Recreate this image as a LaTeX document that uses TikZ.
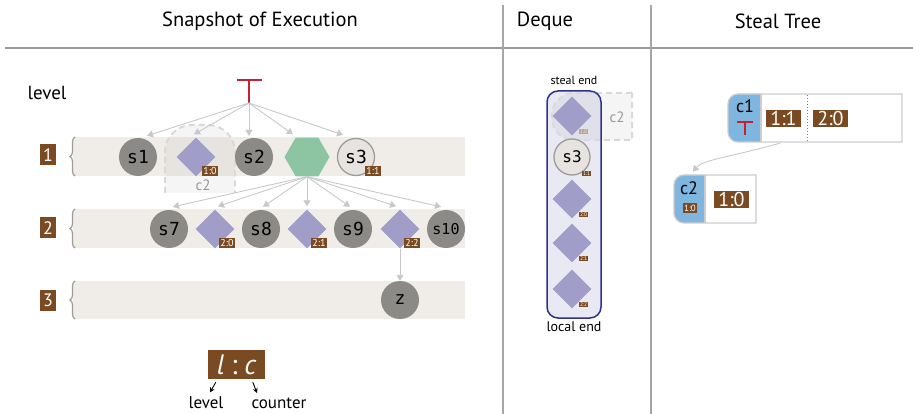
\documentclass[tikz,border=0pt]{standalone}
\usepackage{fontspec}
\setmainfont{PT Sans}
\newfontfamily\monofont{DejaVu Sans Mono}
\usetikzlibrary{shapes.geometric,arrows.meta,decorations.pathreplacing,calc}
\definecolor{brownc}{HTML}{7A4B22}
\definecolor{nodegray}{HTML}{8C8A86}
\definecolor{diac}{HTML}{A09EC8}
\definecolor{hexc}{HTML}{8DC5A3}
\definecolor{lightn}{HTML}{E6E3E0}
\definecolor{lightb}{HTML}{9E9C99}
\definecolor{bandc}{HTML}{F0EDE9}
\definecolor{arrc}{HTML}{C8C8C8}
\definecolor{dequef}{HTML}{E9E9F4}
\definecolor{navy}{HTML}{2E3190}
\definecolor{tblue}{HTML}{7EB6DF}
\definecolor{redc}{HTML}{C8202F}
\definecolor{ghostd}{HTML}{D9D9D9}
\definecolor{borderc}{HTML}{CCCCCC}
\begin{document}
\begin{tikzpicture}[x=1pt,y=-1pt,
  snode/.style={circle, fill=nodegray, minimum size=38pt, inner sep=0pt, font=\monofont\fontsize{18}{18}\selectfont},
  dnode/.style={diamond, fill=diac, minimum size=39pt, inner sep=0pt},
  tag/.style={fill=brownc, text=white, inner sep=1.3pt, font=\fontsize{10}{10}\selectfont},
  dtag/.style={fill=brownc, text=white, inner sep=0.6pt, font=\fontsize{5.5}{5.5}\selectfont},
  bigtag/.style={fill=brownc, text=white, minimum width=35pt, minimum height=17pt, inner sep=0pt, font=\fontsize{20}{20}\selectfont},
  lvl/.style={fill=brownc, text=white, minimum width=16pt, minimum height=21pt, inner sep=0pt, font=\fontsize{18}{18}\selectfont},
  arr/.style={draw=arrc, line width=0.9pt, -{Triangle[length=6pt,width=7pt]}},
  band/.style={fill=bandc},
  bracec/.style={draw=lightb, line width=1.2pt, decorate, decoration={brace, amplitude=5pt}},
  ghost/.style={draw=ghostd, line width=2pt, dash pattern=on 6pt off 4pt, fill=gray, fill opacity=0.08},
  title/.style={font=\fontsize{20.5}{20.5}\selectfont},
  tbar/.style={draw=redc, line width=2.2pt},
  blk/.style={draw=black, line width=0.9pt, -{Stealth[length=5pt,width=5pt]}}
]
\useasboundingbox (0,0) rectangle (913,414);

% headers
\node[title] (h1) at (260,21) {Snapshot of Execution};
\node[title] (h2) at (545,21) {Deque};
\node[title] (h3) at (778,21) {Steal Tree};
\draw[draw=gray!80, line width=2pt] (5,48) -- (913,48);
\draw[draw=gray!70, line width=1.2pt] (503,5) -- (503,414);
\draw[draw=gray!70, line width=1.2pt] (651,5) -- (651,414);

% snapshot
\node[font=\fontsize{19}{19}\selectfont] (lvtxt) at (47,93) {level};
\fill[band] (73,137) rectangle (465,176);
\fill[band] (73,209) rectangle (465,248);
\fill[band] (73,281) rectangle (465,319);
\draw[bracec] (75,176) -- (75,137);
\draw[bracec] (75,248) -- (75,209);
\draw[bracec] (75,319) -- (75,281);
\node[lvl] (l1) at (48,155) {1};
\node[lvl] (l2) at (48,228) {2};
\node[lvl] (l3) at (48,300) {3};

% ghost c2
\path[ghost] (165,193) -- (165,152) arc[start angle=180, end angle=270, radius=27] -- (208,125) arc[start angle=270, end angle=360, radius=27] -- (235,193);
\node[text=gray!80, font=\fontsize{15}{15}\selectfont] (c2g) at (203,185) {c2};

% root T
\draw[tbar] (237,80) -- (262,80);
\draw[tbar] (249,80) -- (249,103);
\coordinate (root) at (249,103);

% row 1
\node[snode] (s1) at (138,157) {s1};
\node[dnode] (d10) at (196,157) {};
\node[snode] (s2) at (254,157) {s2};
\node[regular polygon, regular polygon sides=6, minimum size=45pt, inner sep=0pt, fill=hexc] (hex) at (307,157) {};
\node[snode, fill=lightn, draw=lightb, line width=1.3pt, minimum size=37pt] (s3) at (356,157) {s3};
\node[tag, anchor=south east] (t10) at ($(d10.center)+(22,19.5)$) {1:0};
\node[tag, anchor=south east] (t11) at ($(s3.center)+(25,19.5)$) {1:1};

\draw[arr] (root) -- ($(s1.north)+(9,-2)$);
\draw[arr] (root) -- ($(d10.north)+(-2,-3)$);
\draw[arr] (root) -- ($(s2.north)+(-5,-2)$);
\draw[arr] (root) -- ($(hex.north)+(-14,-3)$);
\draw[arr] (root) -- ($(s3.north)+(-13,-3)$);

% row 2
\node[snode] (s7) at (169,229) {s7};
\node[dnode] (d20) at (215,229) {};
\node[snode] (s8) at (261,229) {s8};
\node[dnode] (d21) at (307,229) {};
\node[snode] (s9) at (353,229) {s9};
\node[dnode] (d22) at (400,229) {};
\node[snode, font=\monofont\fontsize{15}{15}\selectfont] (s10) at (446,229) {s10};
\node[tag, anchor=south east] (t20) at ($(d20.center)+(20,19.5)$) {2:0};
\node[tag, anchor=south east] (t21) at ($(d21.center)+(20,19.5)$) {2:1};
\node[tag, anchor=south east] (t22) at ($(d22.center)+(20,19.5)$) {2:2};

\draw[arr] (hex.south) -- ($(s7.north)+(4,-3)$);
\draw[arr] (hex.south) -- ($(d20.north)+(3,-3)$);
\draw[arr] (hex.south) -- ($(s8.north)+(2,-3)$);
\draw[arr] (hex.south) -- ($(d21.north)+(0,-3)$);
\draw[arr] (hex.south) -- ($(s9.north)+(-3,-3)$);
\draw[arr] (hex.south) -- ($(d22.north)+(-4,-3)$);
\draw[arr] (hex.south) -- ($(s10.north)+(-5,-3)$);

% row 3
\node[snode] (z) at (400,300) {z};
\draw[arr] (d22.south) -- (z.north);

% legend
\node[fill=brownc, text=white, minimum width=57pt, minimum height=29pt, inner sep=0pt, font=\fontsize{28}{28}\selectfont] (leg) at (236.5,364.5) {\itshape l\hspace{7pt}\upshape:\hspace{7pt}\itshape c};
\node[font=\fontsize{17}{17}\selectfont] (lvl) at (206,403) {level};
\node[font=\fontsize{17}{17}\selectfont] (cnt) at (279,403) {counter};
\draw[blk] ($(leg.south west)+(8,3)$) -- ($(lvl.north)+(4,-1)$);
\draw[blk] ($(leg.south west)+(45,3)$) -- ($(cnt.north)+(-22,-1)$);

% deque
\node[font=\fontsize{12}{12}\selectfont] (se) at (574,80) {steal end};
\node[fill=dequef, rounded corners=11pt, minimum width=54pt, minimum height=227pt, inner sep=0pt] (deq) at (574,204.5) {};
\path[ghost] (632,93) -- (574,93) arc[start angle=-90, end angle=-180, radius=22] -- (552,118) arc[start angle=180, end angle=90, radius=22] -- (632,140) -- cycle;
\node[draw=navy, line width=1.5pt, rounded corners=11pt, minimum width=54pt, minimum height=227pt, inner sep=0pt] (deqb) at (574,204.5) {};
\node[font=\fontsize{14}{14}\selectfont] (le) at (574,327) {local end};
\node[text=gray!80, font=\fontsize{15}{15}\selectfont] (c2d) at (617,117) {c2};
\node[dnode] (e10) at (572,116) {};
\node[snode, fill=lightn, draw=lightb, line width=1.3pt, minimum size=36pt, font=\monofont\fontsize{16}{16}\selectfont] (e3) at (572,157) {s3};
\node[dnode] (e20) at (572,199) {};
\node[dnode] (e21) at (572,243) {};
\node[dnode] (e22) at (572,289) {};
\node[dtag, anchor=south east, fill=brownc!50, text=white!85!brownc] (u10) at ($(e10.center)+(16,18)$) {1:0};
\node[dtag, anchor=south east] (u11) at ($(e3.center)+(19,19)$) {1:1};
\node[dtag, anchor=south east] (u20) at ($(e20.center)+(16,18)$) {2:0};
\node[dtag, anchor=south east] (u21) at ($(e21.center)+(16,18)$) {2:1};
\node[dtag, anchor=south east] (u22) at ($(e22.center)+(16,18)$) {2:2};

% steal tree
\node[minimum width=174pt, minimum height=48pt, inner sep=0pt] (c1) at (815,118) {};
\fill[tblue] (761,94) -- (738,94) arc[start angle=-90, end angle=-180, radius=10] -- (728,132) arc[start angle=180, end angle=90, radius=10] -- (761,142) -- cycle;
\fill[white] (761,94) rectangle (902,142);
\draw[borderc, line width=1.3pt] (902,94) -- (738,94) arc[start angle=-90, end angle=-180, radius=10] -- (728,132) arc[start angle=180, end angle=90, radius=10] -- (902,142) -- cycle;
\draw[borderc, line width=1.3pt] (761,94) -- (761,142);
\draw[gray, line width=1pt, dotted] (807,95) -- (807,141);
\node[font=\fontsize{18}{18}\selectfont] (c1t) at (745,106) {c1};
\draw[redc, line width=1.8pt] (737,122) -- (753,122);
\draw[redc, line width=1.8pt] (745,122) -- (745,135);
\node[bigtag] (b11) at (783.5,119) {1:1};
\node[bigtag] (b20) at (830.5,119) {2:0};

\node[minimum width=82pt, minimum height=48pt, inner sep=0pt] (c2) at (715,199) {};
\fill[tblue] (705,175) -- (684,175) arc[start angle=-90, end angle=-180, radius=10] -- (674,213) arc[start angle=180, end angle=90, radius=10] -- (705,223) -- cycle;
\fill[white] (705,175) rectangle (756,223);
\draw[borderc, line width=1.3pt] (756,175) -- (684,175) arc[start angle=-90, end angle=-180, radius=10] -- (674,213) arc[start angle=180, end angle=90, radius=10] -- (756,223) -- cycle;
\draw[borderc, line width=1.3pt] (705,175) -- (705,223);
\node[font=\fontsize{18}{18}\selectfont] (c2t) at (689,188) {c2};
\node[tag, font=\fontsize{9}{9}\selectfont] (s2tag) at (690,208) {1:0};
\node[bigtag] (b10) at (731.5,199.5) {1:0};

\coordinate (c1out) at ($(c1.south west)+(52,1)$);
\coordinate (c2in) at ($(c2.north west)+(19,-3)$);
\draw[arr] (c1out) .. controls +(-50,14) and +(10,-12) .. (c2in);
\end{tikzpicture}
\end{document}
